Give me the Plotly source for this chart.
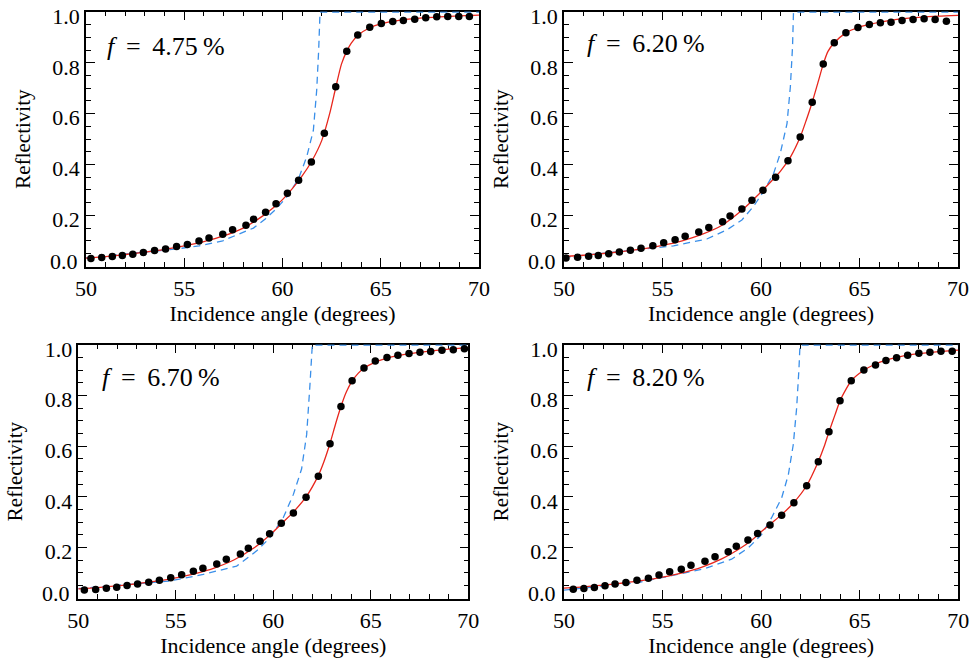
import plotly.graph_objects as go

# ---------------- data ----------------
fractions = ["4.75", "6.20", "6.70", "8.20"]

# measured points (black dots)
angle_a = [50.25, 50.80, 51.34, 51.85, 52.38, 52.92, 53.49, 54.05, 54.61, 55.16, 55.75, 56.26,
           56.96, 57.46, 58.14, 58.53, 59.14, 59.67, 60.25, 60.82, 61.47, 62.13, 62.71, 63.27,
           63.83, 64.44, 65.03, 65.61, 66.15, 66.73, 67.29, 67.85, 68.41, 68.97, 69.51]
refl_a = [0.030, 0.034, 0.038, 0.042, 0.047, 0.054, 0.062, 0.068, 0.077, 0.085, 0.099, 0.111,
          0.126, 0.143, 0.161, 0.185, 0.212, 0.246, 0.287, 0.338, 0.410, 0.523, 0.706, 0.846,
          0.910, 0.940, 0.955, 0.963, 0.967, 0.972, 0.977, 0.981, 0.982, 0.982, 0.982]

angle_b = [50.10, 50.69, 51.25, 51.74, 52.27, 52.81, 53.37, 53.91, 54.51, 55.06, 55.64, 56.15,
           56.84, 57.35, 58.05, 58.43, 59.03, 59.54, 60.10, 60.74, 61.37, 61.99, 62.60, 63.16,
           63.72, 64.31, 64.92, 65.50, 66.06, 66.60, 67.16, 67.72, 68.28, 68.84, 69.41]
refl_b = [0.032, 0.035, 0.039, 0.042, 0.049, 0.056, 0.063, 0.071, 0.080, 0.092, 0.104, 0.118,
          0.135, 0.152, 0.175, 0.197, 0.225, 0.259, 0.299, 0.350, 0.415, 0.508, 0.645, 0.795,
          0.879, 0.918, 0.939, 0.951, 0.958, 0.960, 0.967, 0.971, 0.973, 0.971, 0.964]

angle_c = [50.31, 50.89, 51.44, 51.97, 52.50, 53.04, 53.61, 54.16, 54.74, 55.30, 55.90, 56.39,
           57.10, 57.59, 58.31, 58.72, 59.32, 59.81, 60.41, 61.03, 61.68, 62.31, 62.91, 63.47,
           64.04, 64.65, 65.23, 65.83, 66.39, 66.96, 67.52, 68.07, 68.65, 69.23, 69.80]
refl_c = [0.032, 0.034, 0.039, 0.043, 0.050, 0.056, 0.063, 0.071, 0.081, 0.093, 0.106, 0.118,
          0.135, 0.154, 0.175, 0.197, 0.225, 0.255, 0.296, 0.336, 0.399, 0.482, 0.610, 0.757,
          0.859, 0.909, 0.937, 0.951, 0.960, 0.966, 0.971, 0.974, 0.979, 0.981, 0.985]

angle_d = [50.47, 51.01, 51.54, 52.08, 52.59, 53.14, 53.70, 54.28, 54.82, 55.36, 55.95, 56.44,
           57.15, 57.66, 58.33, 58.74, 59.33, 59.82, 60.45, 61.04, 61.66, 62.31, 62.90, 63.44,
           64.00, 64.57, 65.21, 65.80, 66.33, 66.87, 67.43, 68.00, 68.56, 69.12, 69.69]
refl_d = [0.035, 0.038, 0.042, 0.049, 0.056, 0.062, 0.071, 0.079, 0.092, 0.104, 0.114, 0.130,
          0.146, 0.164, 0.183, 0.205, 0.230, 0.256, 0.289, 0.328, 0.377, 0.444, 0.539, 0.657,
          0.780, 0.859, 0.901, 0.921, 0.939, 0.950, 0.960, 0.967, 0.971, 0.975, 0.975]

# fitted model (red solid)
fit_x_a = [50.0, 51.0, 52.0, 53.0, 54.0, 55.0, 56.0, 57.0, 58.0, 59.0, 59.5, 60.0, 60.5, 61.0,
           61.5, 62.0, 62.4, 62.7, 63.0, 63.27, 63.5, 63.83, 64.44, 65.03, 66.0, 67.0, 68.0, 69.0, 70.0]
fit_y_a = [0.032, 0.038, 0.046, 0.055, 0.066, 0.080, 0.097, 0.119, 0.150, 0.198, 0.228, 0.262,
           0.305, 0.355, 0.415, 0.495, 0.600, 0.700, 0.795, 0.846, 0.878, 0.908, 0.938, 0.954,
           0.968, 0.976, 0.981, 0.985, 0.988]

fit_x_b = [50.0, 51.0, 52.0, 53.0, 54.0, 55.0, 56.0, 57.0, 58.0, 59.0, 59.5, 60.0, 60.5, 61.0,
           61.5, 62.0, 62.3, 62.6, 62.9, 63.16, 63.4, 63.72, 64.31, 64.92, 65.5, 66.06, 67.0,
           68.0, 69.0, 70.0]
fit_y_b = [0.038, 0.043, 0.050, 0.058, 0.068, 0.082, 0.100, 0.125, 0.160, 0.218, 0.254, 0.292,
           0.332, 0.375, 0.430, 0.510, 0.575, 0.645, 0.725, 0.795, 0.845, 0.879, 0.918, 0.939,
           0.951, 0.960, 0.972, 0.979, 0.984, 0.987]

fit_x_c = [50.0, 51.0, 52.0, 53.0, 54.0, 55.0, 56.0, 57.0, 58.0, 59.0, 59.5, 60.0, 60.5, 61.0,
           61.68, 62.31, 62.6, 62.91, 63.2, 63.47, 63.75, 64.04, 64.35, 64.65, 65.23, 65.83,
           66.39, 67.0, 68.0, 69.0, 70.0]
fit_y_c = [0.037, 0.042, 0.049, 0.057, 0.067, 0.080, 0.097, 0.120, 0.152, 0.198, 0.228, 0.262,
           0.300, 0.338, 0.400, 0.485, 0.540, 0.612, 0.690, 0.757, 0.815, 0.857, 0.888, 0.908,
           0.932, 0.948, 0.958, 0.966, 0.976, 0.984, 0.990]

fit_x_d = [50.0, 51.0, 52.0, 53.0, 54.0, 55.0, 56.0, 57.0, 58.0, 59.0, 59.5, 60.0, 60.45, 61.04,
           61.66, 62.31, 62.9, 63.2, 63.44, 63.75, 64.0, 64.3, 64.57, 65.21, 65.8, 66.33, 66.87,
           67.43, 68.0, 69.0, 70.0]
fit_y_d = [0.040, 0.045, 0.052, 0.060, 0.070, 0.083, 0.100, 0.123, 0.155, 0.200, 0.228, 0.262,
           0.292, 0.330, 0.378, 0.445, 0.540, 0.600, 0.657, 0.725, 0.780, 0.825, 0.859, 0.900,
           0.925, 0.940, 0.951, 0.960, 0.966, 0.974, 0.980]

# sharp-interface reference (blue dashed)
ref_x_a = [50.0, 52.24, 54.61, 55.75, 56.96, 58.52, 59.14, 59.70, 60.29, 60.82, 61.23, 61.57,
           61.74, 61.84, 61.91, 70.0]
ref_y_a = [0.033, 0.050, 0.068, 0.080, 0.100, 0.150, 0.187, 0.227, 0.279, 0.345, 0.430, 0.534,
           0.692, 0.849, 1.000, 1.000]

ref_x_b = [50.0, 53.87, 55.56, 57.25, 58.27, 59.03, 59.62, 60.13, 60.64, 60.98, 61.32, 61.49,
           61.60, 61.65, 70.0]
ref_y_b = [0.035, 0.067, 0.080, 0.107, 0.143, 0.182, 0.235, 0.294, 0.365, 0.444, 0.561, 0.705,
           0.862, 1.000, 1.000]

ref_x_c = [50.0, 54.70, 56.41, 58.12, 59.15, 59.83, 60.51, 61.03, 61.45, 61.71, 61.88, 61.98,
           62.00, 70.0]
ref_y_c = [0.038, 0.068, 0.094, 0.127, 0.187, 0.239, 0.318, 0.410, 0.510, 0.646, 0.843, 0.975,
           1.000, 1.000]

ref_x_d = [50.0, 52.08, 53.77, 55.45, 57.15, 58.50, 59.35, 60.03, 60.53, 61.04, 61.38, 61.63,
           61.80, 61.92, 61.97, 70.0]
ref_y_d = [0.032, 0.049, 0.062, 0.089, 0.117, 0.154, 0.199, 0.252, 0.318, 0.396, 0.488, 0.607,
           0.751, 0.909, 1.000, 1.000]

x_ticks = [50, 55, 60, 65, 70]
y_ticks = [0.0, 0.2, 0.4, 0.6, 0.8, 1.0]
x_title = "Incidence angle (degrees)"
y_title = "Reflectivity"

# ---------------- figure ----------------
W, H = 972, 658
FONT = "'Liberation Serif', 'Times New Roman', Times, serif"

# pixel boxes (left, right, top, bottom)
boxes = [(86, 479, 11.5, 266.7), (564, 958, 11.5, 266.7),
         (78.3, 468.3, 344.5, 598.7), (564, 958.3, 344.5, 598.7)]
label_pos = [(105, 46), (585, 44), (100, 377), (585, 377)]

sets = [
    (angle_a, refl_a, fit_x_a, fit_y_a, ref_x_a, ref_y_a),
    (angle_b, refl_b, fit_x_b, fit_y_b, ref_x_b, ref_y_b),
    (angle_c, refl_c, fit_x_c, fit_y_c, ref_x_c, ref_y_c),
    (angle_d, refl_d, fit_x_d, fit_y_d, ref_x_d, ref_y_d),
]


def px(x):
    return x / W


def py(y):
    return 1 - y / H


fig = go.Figure()
layout = {}
annotations = []
for i, (ax_, ay_, fx, fy, rx, ry) in enumerate(sets):
    sfx = "" if i == 0 else str(i + 1)
    xa, ya = "x" + sfx, "y" + sfx
    fig.add_trace(go.Scatter(x=rx, y=ry, mode="lines", xaxis=xa, yaxis=ya,
                             line=dict(color="#3a8fe9", width=1.3, dash="7px,5px"),
                             showlegend=False, hoverinfo="skip"))
    fig.add_trace(go.Scatter(x=fx, y=fy, mode="lines", xaxis=xa, yaxis=ya,
                             line=dict(color="#e8261c", width=1.3, shape="spline", smoothing=0.6),
                             showlegend=False))
    fig.add_trace(go.Scatter(x=ax_, y=ay_, mode="markers", xaxis=xa, yaxis=ya,
                             marker=dict(color="black", size=7.5),
                             showlegend=False, cliponaxis=False))
    l, r, t, b = boxes[i]
    common = dict(showline=True, linecolor="black", linewidth=1.5, mirror="ticks",
                  ticks="inside", tickcolor="black", tickwidth=1.3, showgrid=False,
                  zeroline=False, layer="below traces", automargin=False,
                  ticklabeloverflow="allow",
                  tickfont=dict(family=FONT, size=22, color="black"))
    layout["xaxis" + sfx] = dict(
        common, domain=[px(l), px(r)], anchor=ya, range=[50, 70],
        tickvals=x_ticks, ticklen=9, ticklabelstandoff=1,
        minor=dict(ticks="inside", ticklen=5, dtick=1, tickcolor="black", tickwidth=1.3),
        title=dict(text=x_title, font=dict(family=FONT, size=22, color="black"), standoff=0))
    # the bottom "0.0" label sits raised inside the frame, so it is placed separately below
    ytext = ["" if v == 0 else "%.1f" % v for v in y_ticks]
    layout["yaxis" + sfx] = dict(
        common, domain=[py(b), py(t)], anchor=xa, range=[-0.002, 1.002],
        tickvals=y_ticks, ticktext=ytext, ticklen=9,
        ticklabelshift=4,
        minor=dict(ticks="inside", ticklen=5, dtick=0.05, tickcolor="black", tickwidth=1.3),
        title=dict(text=y_title, font=dict(family=FONT, size=21, color="black"), standoff=16))
    annotations.append(dict(text="%.1f" % y_ticks[0], x=px(l - 6), y=py(b - 5.5),
                            xref="paper", yref="paper", xanchor="right", yanchor="middle",
                            showarrow=False, font=dict(family=FONT, size=22, color="black")))
    tx, ty = label_pos[i]
    text = "<i>f</i>\u2009 = \u2009" + fractions[i] + "\u2009%"
    annotations.append(dict(text=text, x=px(tx), y=py(ty), xref="paper", yref="paper",
                            xanchor="left", yanchor="middle", showarrow=False,
                            font=dict(family=FONT, size=26, color="black")))

fig.update_layout(**layout)
fig.update_layout(width=W, height=H, margin=dict(l=0, r=0, t=0, b=0),
                  paper_bgcolor="white", plot_bgcolor="white",
                  annotations=annotations, showlegend=False)
fig.write_html("out.html", config={"displayModeBar": False},
               post_script="document.body.style.margin='0';document.body.style.overflow='hidden';")
